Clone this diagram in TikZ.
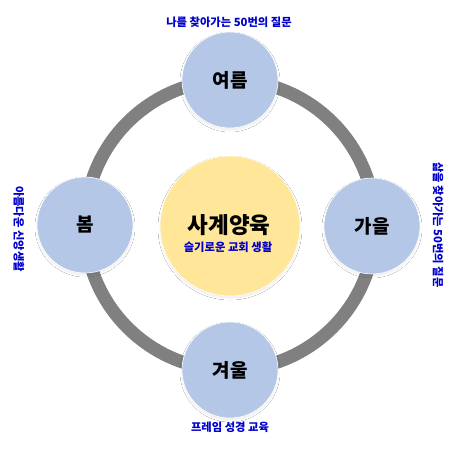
\documentclass[tikz,border=0pt]{standalone}
\usepackage{fontspec}
\setmainfont{Noto Sans CJK KR}
\usetikzlibrary{shadows.blur}
\definecolor{ringgray}{HTML}{808080}
\definecolor{seasonblue}{HTML}{B4C7E7}
\definecolor{centeryellow}{HTML}{FFE699}
\definecolor{labelblue}{HTML}{0000CC}
\tikzset{
  softshadow/.style={blur shadow={shadow xshift=0pt, shadow yshift=-2pt, shadow blur radius=2pt, shadow blur steps=6, shadow opacity=8}},
  season/.style={circle, fill=seasonblue, draw=white, line width=0.6pt, minimum size=96pt, inner sep=0pt,
     font=\bfseries\fontsize{19}{21}\selectfont, text=black, softshadow},
  hub/.style={circle, fill=centeryellow, draw=white, line width=0.6pt, minimum size=140pt, inner sep=0pt, softshadow},
  caption/.style={font=\bfseries\fontsize{11.3}{13}\selectfont, text=labelblue, inner sep=0pt},
  ring/.style={draw=ringgray, line width=13pt}
}
\begin{document}
\begin{tikzpicture}[x=1pt, y=-1pt]
  \useasboundingbox (0,0) rectangle (462,453);
  \fill[white] (0,0) rectangle (462,453);
  \coordinate (ringc) at (230,225);
  \draw[ring] (ringc) circle[radius=145];
  \node[hub] (hub) at (230,226) {};
  \node[font=\bfseries\fontsize{22.5}{24}\selectfont, inner sep=0pt] (title) at (229,225) {사계양육};
  \node[caption] (sub) at (228,247) {슬기로운 교회 생활};
  \node[season] (summer) at (230,80) {여름};
  \node[season] (autumn) at (372,226) {가을};
  \node[season] (winter) at (230,370) {겨울};
  \node[season] (spring) at (85,225) {봄};
  \node[caption] (ltop) at (229,22) {나를 찾아가는 50번의 질문};
  \node[caption] (lbottom) at (230,427) {프레임 성경 교육};
  \node[caption, rotate=-90] (lleft) at (19,229) {아름다운 신앙생활};
  \node[caption, rotate=-90] (lright) at (438,225) {삶을 찾아가는 50번의 질문};
\end{tikzpicture}
\end{document}
